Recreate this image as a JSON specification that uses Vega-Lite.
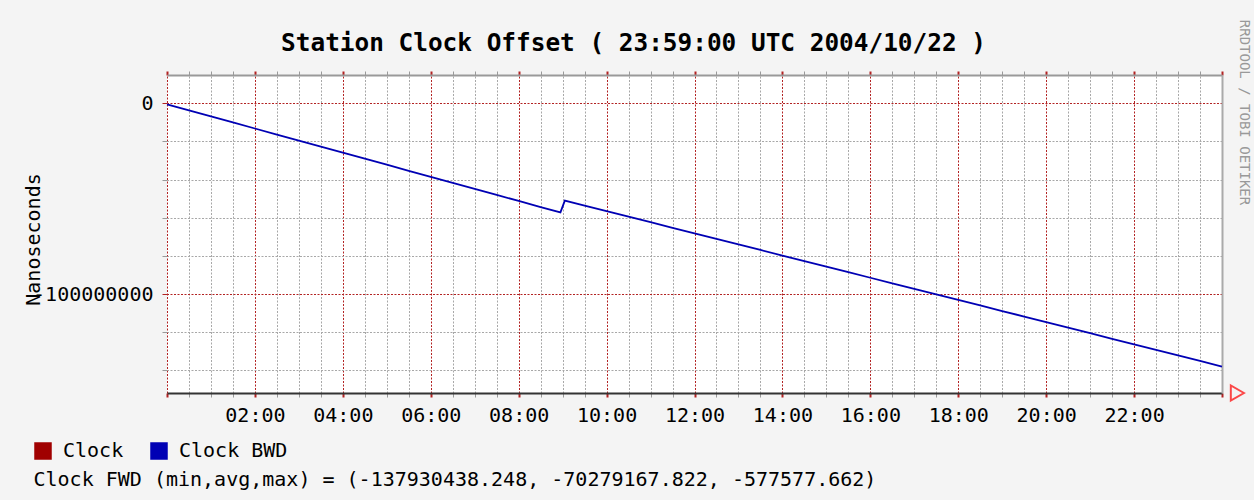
{
  "$schema": "https://vega.github.io/schema/vega-lite/v6.json",
  "width": 1055,
  "height": 318,
  "autosize": {"type": "none"},
  "padding": {"left": 167, "top": 75, "right": 32, "bottom": 107},
  "background": "#f4f4f4",
  "config": {"view": {"fill": "white", "stroke": null}, "font": "DejaVu Sans Mono"},
  "data": {
    "values": [
      {"hour": 0, "series": "Clock BWD", "ns": -577577.662},
      {"hour": 0.5, "series": "Clock BWD", "ns": -3740000},
      {"hour": 1, "series": "Clock BWD", "ns": -6910000},
      {"hour": 1.5, "series": "Clock BWD", "ns": -10070000},
      {"hour": 2, "series": "Clock BWD", "ns": -13230000},
      {"hour": 2.5, "series": "Clock BWD", "ns": -16400000},
      {"hour": 3, "series": "Clock BWD", "ns": -19560000},
      {"hour": 3.5, "series": "Clock BWD", "ns": -22720000},
      {"hour": 4, "series": "Clock BWD", "ns": -25890000},
      {"hour": 4.5, "series": "Clock BWD", "ns": -29050000},
      {"hour": 5, "series": "Clock BWD", "ns": -32210000},
      {"hour": 5.5, "series": "Clock BWD", "ns": -35380000},
      {"hour": 6, "series": "Clock BWD", "ns": -38540000},
      {"hour": 6.5, "series": "Clock BWD", "ns": -41700000},
      {"hour": 7, "series": "Clock BWD", "ns": -44870000},
      {"hour": 7.5, "series": "Clock BWD", "ns": -48030000},
      {"hour": 8, "series": "Clock BWD", "ns": -51190000},
      {"hour": 8.5, "series": "Clock BWD", "ns": -54360000},
      {"hour": 8.95, "series": "Clock BWD", "ns": -57200000},
      {"hour": 9.05, "series": "Clock BWD", "ns": -51000000},
      {"hour": 9.5, "series": "Clock BWD", "ns": -53620000},
      {"hour": 10, "series": "Clock BWD", "ns": -56520000},
      {"hour": 10.5, "series": "Clock BWD", "ns": -59430000},
      {"hour": 11, "series": "Clock BWD", "ns": -62340000},
      {"hour": 11.5, "series": "Clock BWD", "ns": -65250000},
      {"hour": 12, "series": "Clock BWD", "ns": -68160000},
      {"hour": 12.5, "series": "Clock BWD", "ns": -71060000},
      {"hour": 13, "series": "Clock BWD", "ns": -73970000},
      {"hour": 13.5, "series": "Clock BWD", "ns": -76880000},
      {"hour": 14, "series": "Clock BWD", "ns": -79790000},
      {"hour": 14.5, "series": "Clock BWD", "ns": -82690000},
      {"hour": 15, "series": "Clock BWD", "ns": -85600000},
      {"hour": 15.5, "series": "Clock BWD", "ns": -88510000},
      {"hour": 16, "series": "Clock BWD", "ns": -91420000},
      {"hour": 16.5, "series": "Clock BWD", "ns": -94320000},
      {"hour": 17, "series": "Clock BWD", "ns": -97230000},
      {"hour": 17.5, "series": "Clock BWD", "ns": -100140000},
      {"hour": 18, "series": "Clock BWD", "ns": -103050000},
      {"hour": 18.5, "series": "Clock BWD", "ns": -105950000},
      {"hour": 19, "series": "Clock BWD", "ns": -108860000},
      {"hour": 19.5, "series": "Clock BWD", "ns": -111770000},
      {"hour": 20, "series": "Clock BWD", "ns": -114680000},
      {"hour": 20.5, "series": "Clock BWD", "ns": -117580000},
      {"hour": 21, "series": "Clock BWD", "ns": -120490000},
      {"hour": 21.5, "series": "Clock BWD", "ns": -123400000},
      {"hour": 22, "series": "Clock BWD", "ns": -126310000},
      {"hour": 22.5, "series": "Clock BWD", "ns": -129210000},
      {"hour": 23, "series": "Clock BWD", "ns": -132120000},
      {"hour": 23.5, "series": "Clock BWD", "ns": -135030000},
      {"hour": 24, "series": "Clock BWD", "ns": -137930438.248}
    ]
  },
  "layer": [
    {
      "mark": {"type": "line", "opacity": 0},
      "encoding": {
        "x": {
          "field": "hour",
          "type": "quantitative",
          "scale": {"domain": [0, 24], "nice": false, "zero": false},
          "axis": {
            "orient": "top",
            "values": [0,0.5,1,1.5,2,2.5,3,3.5,4,4.5,5,5.5,6,6.5,7,7.5,8,8.5,9,9.5,10,10.5,11,11.5,12,12.5,13,13.5,14,14.5,15,15.5,16,16.5,17,17.5,18,18.5,19,19.5,20,20.5,21,21.5,22,22.5,23,23.5,24],
            "labels": false,
            "grid": true,
            "gridColor": {"condition": {"test": "datum.value % 2 === 0", "value": "#b22222"}, "value": "#a8a8a8"},
            "gridDash": [2, 1.5],
            "gridWidth": 1,
            "ticks": true,
            "tickSize": 4,
            "tickColor": {"condition": {"test": "datum.value % 2 === 0", "value": "#b22222"}, "value": "#999999"},
            "tickWidth": {"condition": {"test": "datum.value % 2 === 0", "value": 2}, "value": 1},
            "domain": true,
            "domainColor": "#999999",
            "domainWidth": 2,
            "title": "Station Clock Offset ( 23:59:00 UTC 2004/10/22 )",
            "titleFont": "DejaVu Sans Mono",
            "titleFontSize": 24.4,
            "titleFontWeight": "bold",
            "titleColor": "black",
            "titleAnchor": null,
            "titleAlign": "center",
            "titleBaseline": "alphabetic",
            "titleX": 466,
            "titleY": -25
          }
        },
        "y": {
          "field": "ns",
          "type": "quantitative",
          "scale": {"domain": [-151800000, 14800000], "nice": false, "zero": false},
          "axis": {
            "orient": "right",
            "values": [-140000000, -120000000, -100000000, -80000000, -60000000, -40000000, -20000000, 0],
            "labels": false,
            "ticks": false,
            "grid": true,
            "gridColor": {"condition": {"test": "datum.value % 100000000 === 0", "value": "#b22222"}, "value": "#a8a8a8"},
            "gridDash": [2, 1.5],
            "domain": true,
            "domainColor": "#aaaaaa",
            "domainWidth": 2,
            "title": "RRDTOOL / TOBI OETIKER",
            "titleFont": "DejaVu Sans Mono",
            "titleFontSize": 14,
            "titleFontWeight": "normal",
            "titleColor": "#999999",
            "titleAngle": 90,
            "titleAlign": "center",
            "titleBaseline": "middle",
            "titleX": 21,
            "titleY": 37
          }
        }
      }
    },
    {
      "mark": {"type": "line", "strokeWidth": 1.8, "color": "#0000b4"},
      "encoding": {
        "x": {
          "field": "hour",
          "type": "quantitative",
          "axis": {
            "orient": "bottom",
            "values": [0,0.5,1,1.5,2,2.5,3,3.5,4,4.5,5,5.5,6,6.5,7,7.5,8,8.5,9,9.5,10,10.5,11,11.5,12,12.5,13,13.5,14,14.5,15,15.5,16,16.5,17,17.5,18,18.5,19,19.5,20,20.5,21,21.5,22,22.5,23,23.5,24],
            "grid": false,
            "labelExpr": "(datum.value % 2 !== 0 || datum.value == 0 || datum.value == 24) ? '' : ((datum.value < 10 ? '0' : '') + datum.value + ':00')",
            "labelOverlap": false,
            "labelFlush": false,
            "labelFont": "DejaVu Sans Mono",
            "labelFontSize": 20,
            "labelColor": "black",
            "labelPadding": 8,
            "ticks": true,
            "tickSize": 4,
            "tickColor": {"condition": {"test": "datum.value % 2 === 0", "value": "#b22222"}, "value": "#999999"},
            "tickWidth": {"condition": {"test": "datum.value % 2 === 0", "value": 2}, "value": 1},
            "domain": true,
            "domainColor": "#333333",
            "domainWidth": 2,
            "title": "Clock FWD (min,avg,max) = (-137930438.248, -70279167.822, -577577.662)",
            "titleFont": "DejaVu Sans Mono",
            "titleFontSize": 20,
            "titleFontWeight": "normal",
            "titleColor": "black",
            "titleAnchor": "start",
            "titleAlign": "left",
            "titleBaseline": "alphabetic",
            "titleX": -134,
            "titleY": 92
          }
        },
        "y": {
          "field": "ns",
          "type": "quantitative",
          "axis": {
            "orient": "left",
            "values": [-140000000, -120000000, -100000000, -80000000, -60000000, -40000000, -20000000, 0],
            "grid": false,
            "domain": false,
            "labelExpr": "datum.value % 100000000 === 0 ? ('' + datum.value) : ''",
            "labelOverlap": false,
            "labelFont": "DejaVu Sans Mono",
            "labelFontSize": 20,
            "labelColor": "black",
            "labelPadding": 9,
            "ticks": true,
            "tickSize": 5,
            "tickColor": {"condition": {"test": "datum.value % 100000000 === 0", "value": "#b22222"}, "value": "#999999"},
            "title": "Nanoseconds",
            "titleFont": "DejaVu Sans Mono",
            "titleFontSize": 20,
            "titleFontWeight": "normal",
            "titleColor": "black",
            "titleAngle": -90,
            "titleAlign": "center",
            "titleBaseline": "middle",
            "titleX": -134,
            "titleY": 164
          }
        },
        "stroke": {
          "field": "series",
          "type": "nominal",
          "scale": {"domain": ["Clock", "Clock BWD"], "range": ["#a00000", "#0000b4"]},
          "legend": {
            "orient": "none",
            "legendX": -134,
            "legendY": 366,
            "direction": "horizontal",
            "title": null,
            "padding": 0,
            "symbolType": "square",
            "symbolSize": 256,
            "symbolStrokeWidth": 1,
            "labelFont": "DejaVu Sans Mono",
            "labelFontSize": 20,
            "labelColor": "black",
            "labelOffset": 10,
            "columnPadding": 24,
            "encode": {
              "symbols": {
                "update": {
                  "fill": {"scale": "stroke", "field": "value"},
                  "fillOpacity": {"value": 1},
                  "stroke": {"value": "black"},
                  "strokeWidth": {"value": 1.5},
                  "opacity": {"value": 1}
                }
              }
            }
          }
        }
      }
    },
    {
      "data": {"values": [{}]},
      "mark": {"type": "point", "shape": "triangle-right", "filled": false, "stroke": "#ff0000", "strokeWidth": 2, "size": 230, "clip": false},
      "encoding": {
        "x": {"datum": 24.35, "type": "quantitative", "axis": null},
        "y": {"datum": -151800000, "type": "quantitative", "axis": null}
      }
    }
  ],
  "resolve": {"axis": {"x": "independent", "y": "independent"}}
}
